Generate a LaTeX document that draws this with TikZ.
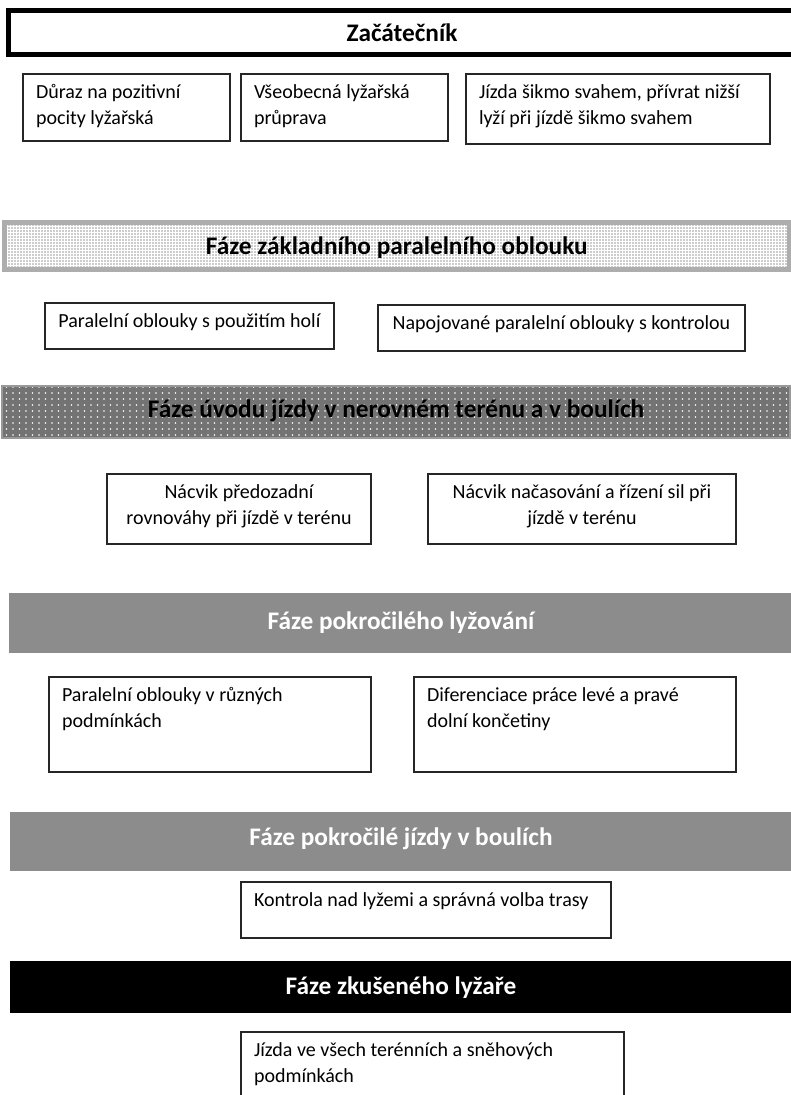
\documentclass[tikz,border=0pt]{standalone}
\usepackage{fontspec}
\setmainfont{Carlito}
\usetikzlibrary{patterns}
\pgfdeclarepatternformonly{blackdots}{\pgfqpoint{-1pt}{-1pt}}{\pgfqpoint{1pt}{1pt}}{\pgfqpoint{3pt}{3pt}}{\pgfpathcircle{\pgfqpoint{0pt}{0pt}}{.65pt}\pgfusepath{fill}}
\pgfdeclarepatternformonly{whitedots}{\pgfqpoint{-1pt}{-1pt}}{\pgfqpoint{1pt}{1pt}}{\pgfqpoint{6.5pt}{6pt}}{\pgfpathcircle{\pgfqpoint{0pt}{0pt}}{.8pt}\pgfusepath{fill}}
\tikzset{
	box/.style={draw=black!85, line width=1.3pt, anchor=north west, outer sep=0pt, inner xsep=13pt, inner ysep=0pt, text height=24pt, font=\fontsize{20}{26.5}\selectfont, align=flush left},
	midbox/.style={box, inner xsep=5pt, align=flush center},
	banner/.style={anchor=north west, outer sep=0pt, inner xsep=0pt, inner ysep=0pt, align=flush center, font=\fontsize{25.3}{30}\selectfont\bfseries},
}

\begin{document}
\begin{tikzpicture}[x=1pt,y=-1pt]
			%%%%% START %%%%%
			\useasboundingbox (0,0) rectangle (791,1095);

			% zacatecnik
			\node[banner, draw=black, line width=5pt, text width=788pt, text height=30.5pt, text depth=13.5pt] (zacatecnik) at (8,10.5) {Začátečník};
			\node[box, text width=181pt, text depth=43pt] (pozitivni) at (23,74) {Důraz na pozitivní\\pocity lyžařská};
			\node[box, text width=181pt, text depth=43pt] (pruprava) at (241,74) {Všeobecná lyžařská\\průprava};
			\node[box, text width=278pt, text depth=46pt] (sikmo) at (466,74) {Jízda šikmo svahem, přívrat nižší\\lyží při jízdě šikmo svahem};

			% zakladni oblouk
			\node[banner, draw=black!32, line width=5pt, pattern=blackdots, pattern color=black!85, text width=784.5pt, text height=31.5pt, text depth=15.5pt] (zakladni) at (4.5,222.5) {Fáze základního paralelního oblouku};
			\node[midbox, text width=279pt, text depth=22pt] (holi) at (45,303) {Paralelní oblouky s použitím holí};
			\node[midbox, text width=357pt, text depth=22pt] (napojovane) at (378,305) {Napojované paralelní oblouky s kontrolou};

			% uvod do terenu
			\node[banner, draw=black!40, line width=1.5pt, preaction={fill=black!55}, pattern=whitedots, pattern color=white, text width=788pt, text height=31pt, text depth=21pt] (uvod) at (2,386) {Fáze úvodu jízdy v nerovném terénu a v boulích};
			\node[midbox, text width=254pt, text depth=46pt] (predozadni) at (107,474) {Nácvik předozadní\\rovnováhy při jízdě v terénu};
			\node[midbox, text width=298pt, text depth=46pt] (nacasovani) at (428,474) {Nácvik načasování a řízení sil při\\jízdě v terénu};

			% pokrocile lyzovani
			\node[banner, fill=black!45, text=white, text width=784pt, text height=36pt, text depth=24pt] (pokrocile) at (9,593) {Fáze pokročilého lyžování};
			\node[box, text width=296pt, text depth=71pt] (podminky) at (49,677) {Paralelní oblouky v různých\\podmínkách};
			\node[box, text width=296pt, text depth=71pt] (koncetiny) at (414,677) {Diferenciace práce levé a pravé\\dolní končetiny};

			% boule
			\node[banner, fill=black!45, text=white, text width=782pt, text height=33pt, text depth=26pt] (boule) at (10,812) {Fáze pokročilé jízdy v boulích};
			\node[box, text width=344pt, text depth=32pt] (trasa) at (241,882) {Kontrola nad lyžemi a správná volba trasy};

			% zkuseny lyzar
			\node[banner, fill=black, text=white, text width=782pt, text height=33pt, text depth=19pt] (zkuseny) at (10,961) {Fáze zkušeného lyžaře};
			\node[box, text width=357pt, text depth=60pt] (snih) at (241,1032) {Jízda ve všech terénních a sněhových\\podmínkách};
			%%%%% END %%%%%
\end{tikzpicture}
\end{document}
